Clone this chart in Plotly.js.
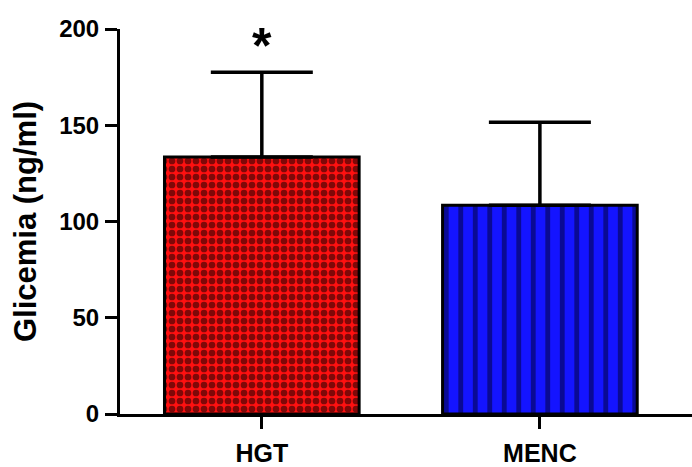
<!DOCTYPE html>
<html>
<head>
<meta charset="utf-8">
<script src="https://cdn.plot.ly/plotly-3.0.1.min.js"></script>
<style>html,body{margin:0;padding:0;background:#fff;}#chart{width:692px;height:467px;}</style>
</head>
<body>
<div id="chart"></div>
<script>
const categories = ["HGT", "MENC"];
const means = [133.5, 108.5];
const errorsUp = [44, 43];
const significance = ["*", ""];
const yTickVals = [0, 50, 100, 150, 200];
const yTitle = "Glicemia (ng/ml)";

const FONT = "Liberation Sans, Arial, sans-serif";

const barHGT = {
  type: "bar",
  x: [categories[0]],
  y: [means[0]],
  width: 0.7,
  marker: {
    color: "#ff1010",
    line: {color: "#000", width: 3},
    pattern: {shape: ".", size: 8, solidity: 0.55, fgcolor: "#000000", bgcolor: "#ff1010", fillmode: "overlay"}
  },
  error_y: {type: "data", symmetric: false, array: [errorsUp[0]], arrayminus: [0], color: "#000", thickness: 3.5, width: 51},
  hoverinfo: "skip"
};
const barMENC = {
  type: "bar",
  x: [categories[1]],
  y: [means[1]],
  width: 0.7,
  marker: {
    color: "#1414ff",
    line: {color: "#000", width: 3},
    pattern: {shape: "|", size: 14.5, solidity: 0.33, fgcolor: "#00002a", bgcolor: "#1414ff", fillmode: "overlay"}
  },
  error_y: {type: "data", symmetric: false, array: [errorsUp[1]], arrayminus: [0], color: "#000", thickness: 3.5, width: 51},
  hoverinfo: "skip"
};

const annotations = categories.map((c, i) => ({
  x: c, y: means[i] + errorsUp[i], xref: "x", yref: "y",
  text: significance[i], showarrow: false, yanchor: "bottom", yshift: -4,
  font: {family: FONT, size: 50, color: "#000", weight: "bold"}
})).filter(a => a.text);

const layout = {
  width: 692, height: 467,
  margin: {l: 120, r: 0, t: 29, b: 53},
  paper_bgcolor: "#fff", plot_bgcolor: "#fff",
  showlegend: false,
  barmode: "group",
  font: {family: FONT, color: "#000"},
  xaxis: {
    type: "category",
    range: [-0.51, 1.547],
    showline: true, linecolor: "#000", linewidth: 3,
    ticks: "outside", ticklen: 12, tickwidth: 3, tickcolor: "#000",
    tickfont: {family: FONT, size: 25, color: "#000", weight: "bold"},
    ticklabelstandoff: 3,
    showgrid: false, zeroline: false, fixedrange: true
  },
  yaxis: {
    range: [0, 200],
    tickvals: yTickVals,
    showline: true, linecolor: "#000", linewidth: 3,
    ticks: "outside", ticklen: 12, tickwidth: 3, tickcolor: "#000",
    tickfont: {family: FONT, size: 24, color: "#000", weight: "bold"},
    ticklabelstandoff: 1,
    title: {text: yTitle, font: {family: FONT, size: 31, color: "#000", weight: "bold"}, standoff: 14},
    showgrid: false, zeroline: false, fixedrange: true
  },
  annotations: annotations
};

Plotly.newPlot("chart", [barHGT, barMENC], layout, {displayModeBar: false, staticPlot: true});
</script>
</body>
</html>
